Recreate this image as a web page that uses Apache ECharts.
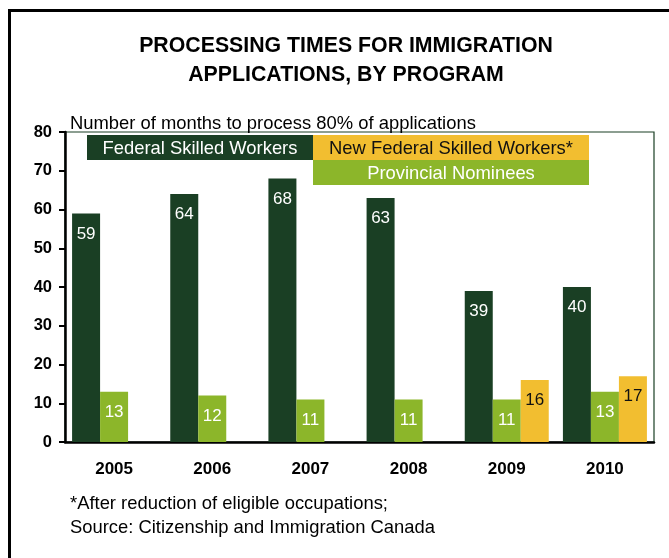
<!DOCTYPE html>
<html>
<head>
<meta charset="utf-8">
<script src="https://cdn.jsdelivr.net/npm/echarts@6/dist/echarts.min.js"></script>
<style>
  html, body { margin: 0; padding: 0; background: #ffffff; }
  #chart { width: 669px; height: 558px; }
</style>
</head>
<body>
<div id="chart"></div>
<script>
// Processing times (months to process 80% of applications), by program and year
const years = ['2005', '2006', '2007', '2008', '2009', '2010'];
const federalSkilledWorkers = [59, 64, 68, 63, 39, 40];
const provincialNominees = [13, 12, 11, 11, 11, 13];
const newFederalSkilledWorkers = [null, null, null, null, 16, 17];
const yTicks = { min: 0, max: 80, interval: 10 };

const seriesNames = ['Federal Skilled Workers', 'Provincial Nominees', 'New Federal Skilled Workers*'];
const COLORS = { dark: '#1a3f24', light: '#8cb62a', yellow: '#f2be30' };
const FONT = '"Liberation Sans", Arial, Helvetica, sans-serif';

const chart = echarts.init(document.getElementById('chart'), null, { renderer: 'canvas' });

function barSeries(name, data, color, labelColor) {
  return {
    name: name,
    type: 'bar',
    data: data,
    barWidth: 28,
    barGap: '0%',
    itemStyle: { color: color },
    label: {
      show: true,
      position: 'insideTop',
      distance: 12,
      color: labelColor,
      fontFamily: FONT,
      fontSize: 17,
      formatter: p => (p.value == null ? '' : String(p.value))
    },
    silent: true,
    animation: false
  };
}

// Legend drawn as a block of coloured boxes with the series names inside
const legendBoxes = [
  { x: 87, y: 135, w: 226, h: 25, fill: COLORS.dark, text: seriesNames[0], color: '#ffffff' },
  { x: 313, y: 135, w: 276, h: 25, fill: COLORS.yellow, text: seriesNames[2], color: '#111111' },
  { x: 313, y: 160, w: 276, h: 25, fill: COLORS.light, text: seriesNames[1], color: '#ffffff' }
];
const legendGraphics = [];
legendBoxes.forEach(b => {
  legendGraphics.push({
    type: 'rect', shape: { x: b.x, y: b.y, width: b.w, height: b.h },
    style: { fill: b.fill }, z: 100
  });
  legendGraphics.push({
    type: 'text', z: 101,
    style: {
      text: b.text, x: b.x + b.w / 2, y: b.y + b.h / 2 + 1,
      align: 'center', verticalAlign: 'middle',
      fill: b.color, font: '18.4px ' + FONT
    }
  });
});

chart.setOption({
  animation: false,
  backgroundColor: '#ffffff',
  title: {
    text: 'PROCESSING TIMES FOR IMMIGRATION\nAPPLICATIONS, BY PROGRAM',
    left: 341,
    top: 27,
    textAlign: 'center',
    textStyle: {
      fontFamily: FONT, fontWeight: 'bold', fontSize: 21.3,
      lineHeight: 29, color: '#000000'
    }
  },
  grid: {
    left: 65, right: 15, top: 132, bottom: 116,
    show: true, borderColor: COLORS.dark, borderWidth: 1.2,
    backgroundColor: 'transparent'
  },
  xAxis: {
    type: 'category',
    data: years,
    axisLine: { lineStyle: { color: '#000000', width: 2.5 } },
    axisTick: { show: false },
    axisLabel: {
      margin: 19, color: '#000000', fontFamily: FONT,
      fontWeight: 'bold', fontSize: 17
    }
  },
  yAxis: {
    type: 'value',
    min: yTicks.min, max: yTicks.max, interval: yTicks.interval,
    name: 'Number of months to process 80% of applications',
    nameLocation: 'end',
    nameGap: 8,
    nameTextStyle: {
      align: 'left', verticalAlign: 'middle',
      color: '#000000', fontFamily: FONT, fontSize: 18.4,
      padding: [0, 0, 0, 5]
    },
    axisLine: { show: true, lineStyle: { color: '#000000', width: 2.5 } },
    axisTick: { show: true, length: 6, lineStyle: { color: '#000000', width: 2 } },
    axisLabel: {
      margin: 13, color: '#000000', fontFamily: FONT,
      fontWeight: 'bold', fontSize: 16.5
    },
    splitLine: { show: false }
  },
  series: [
    barSeries(seriesNames[0], federalSkilledWorkers, COLORS.dark, '#ffffff'),
    barSeries(seriesNames[1], provincialNominees, COLORS.light, '#ffffff'),
    barSeries(seriesNames[2], newFederalSkilledWorkers, COLORS.yellow, '#111111')
  ],
  graphic: [
    // outer frame (left and top edges visible)
    {
      type: 'rect', shape: { x: 9.5, y: 10.5, width: 720, height: 620 },
      style: { fill: null, stroke: '#000000', lineWidth: 3 }, z: 50
    },
    {
      type: 'text', z: 50,
      style: {
        text: '*After reduction of eligible occupations;', x: 70, y: 504,
        verticalAlign: 'middle', fill: '#000000', font: '18.4px ' + FONT
      }
    },
    {
      type: 'text', z: 50,
      style: {
        text: 'Source: Citizenship and Immigration Canada', x: 70, y: 528,
        verticalAlign: 'middle', fill: '#000000', font: '18.4px ' + FONT
      }
    }
  ].concat(legendGraphics)
});
</script>
</body>
</html>
